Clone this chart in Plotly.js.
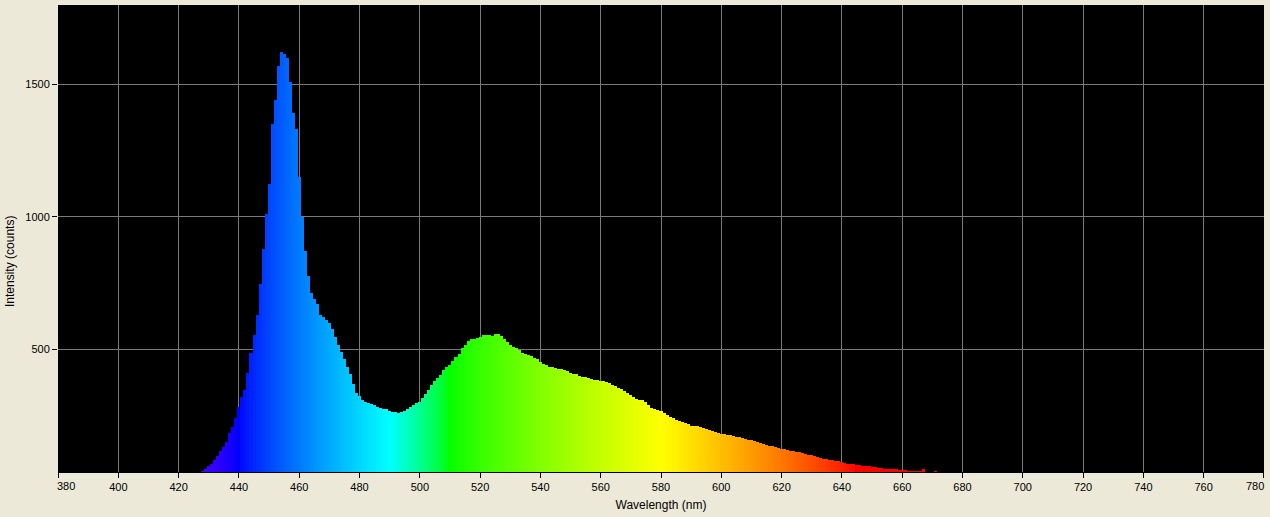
<!DOCTYPE html>
<html>
<head>
<meta charset="utf-8">
<script src="https://cdn.plot.ly/plotly-3.0.1.min.js"></script>
<style>
html,body{margin:0;padding:0;background:#ECE9D8;}
#chart{width:1270px;height:517px;}
</style>
</head>
<body>
<div id="chart"></div>
<script>
// Wavelength (nm), one bin per nm
const wavelengths = [];
for (let w = 428; w <= 671; w++) wavelengths.push(w);

// Intensity (counts), 428..671 nm
const intensity = [
  42, 50, 60, 68, 82, 98, 115, 132, 152, 185,           // 428-437
  205, 240, 282, 320, 348, 410, 485, 555, 630, 745,      // 438-447
  880, 1010, 1125, 1350, 1440, 1570, 1620, 1615, 1600, 1510, // 448-457
  1390, 1330, 1150, 1000, 870, 775, 712, 690, 670, 630,  // 458-467
  620, 612, 598, 575, 545, 518, 490, 462, 432, 405,      // 468-477
  370, 335, 322, 308, 300, 297, 294, 290, 283, 280,      // 478-487
  276, 273, 268, 265, 262, 261, 263, 267, 273, 281,      // 488-497
  289, 296, 300, 318, 332, 348, 367, 380, 391, 402,      // 498-507
  422, 432, 441, 456, 470, 482, 505, 518, 530, 537,      // 508-517
  538, 543, 548, 553, 554, 553, 551, 556, 558, 550,      // 518-527
  540, 526, 515, 510, 503, 497, 487, 483, 480, 474,      // 528-537
  468, 463, 452, 445, 439, 434, 432, 429, 427, 425,      // 538-547
  422, 418, 412, 408, 406, 401, 397, 395, 393, 388,      // 548-557
  386, 384, 381, 379, 375, 371, 366, 360, 355, 350,      // 558-567
  344, 336, 327, 320, 313, 310, 308, 300, 290, 279,      // 568-577
  274, 271, 266, 259, 253, 245, 240, 235, 231, 227,      // 578-587
  222, 217, 212, 211, 210, 206, 204, 199, 195, 192,      // 588-597
  188, 184, 182, 180, 178, 176, 173, 170, 168, 164,      // 598-607
  161, 158, 156, 153, 150, 146, 141, 138, 137, 135,      // 608-617
  132, 128, 125, 122, 119, 117, 115, 113, 112, 108,      // 618-627
  105, 103, 100, 97, 94, 90, 87, 85, 83, 82,             // 628-637
  79, 77, 75, 71, 68, 67, 66, 65, 63, 61,                // 638-647
  60, 58, 57, 56, 53, 51, 50, 49, 48, 47,                // 648-657
  47, 46, 45, 43, 42, 42, 41, 40, 39, 50,                // 658-667
  38, 37, 37, 40                                          // 668-671
];

const xTicks = [380,400,420,440,460,480,500,520,540,560,580,600,620,640,660,680,700,720,740,760,780];
const yTicks = [500, 1000, 1500];
const xMin = 380, xMax = 780;

// visible-spectrum colour for a wavelength (style only)
function specColor(w) {
  let r=0,g=0,b=0;
  if (w < 440) { r = -(w-440)/60; b = 1; }
  else if (w < 490) { g = (w-440)/50; b = 1; }
  else if (w < 510) { g = 1; b = -(w-510)/20; }
  else if (w < 580) { r = (w-510)/70; g = 1; }
  else if (w < 645) { r = 1; g = -(w-645)/65; }
  else { r = 1; }
  let f = 1;
  if (w < 420) f = 0.3 + 0.7*(w-380)/40;
  else if (w > 700) f = 0.3 + 0.7*(780-w)/80;
  const c = v => v <= 0 ? 0 : Math.round(255*Math.pow(v*f, 0.8));
  return 'rgb(' + c(r) + ',' + c(g) + ',' + c(b) + ')';
}

const font = {family: 'Liberation Sans, Arial, sans-serif', size: 11, color: '#000'};

const trace = {
  type: 'bar',
  x: wavelengths,
  y: intensity,
  width: 1,
  marker: {color: wavelengths.map(specColor), line: {width: 0}},
  hoverinfo: 'x+y'
};

// end labels are edge-aligned (drawn as annotations), inner labels are centred ticks
const xTickText = xTicks.map(v => (v === xMin || v === xMax) ? '' : String(v));

const layout = {
  width: 1270, height: 517,
  margin: {l: 58, r: 6, t: 5, b: 45, pad: 0},
  paper_bgcolor: '#ECE9D8',
  plot_bgcolor: '#000000',
  bargap: 0,
  showlegend: false,
  font: font,
  xaxis: {
    range: [xMin - 0.02, xMax + 0.02],
    tickvals: xTicks,
    ticktext: xTickText,
    ticks: 'outside', ticklen: 5, tickcolor: '#000', tickwidth: 1,
    showline: true, linecolor: '#000', linewidth: 1,
    showgrid: true, gridcolor: '#7a7a7a', gridwidth: 1,
    zeroline: false,
    tickfont: font,
    title: {text: 'Wavelength (nm)', font: {family: font.family, size: 12, color: '#000'}, standoff: 8}
  },
  yaxis: {
    range: [37, 1799],
    tickvals: yTicks,
    ticktext: yTicks.map(String),
    ticks: 'outside', ticklen: 5, tickcolor: '#000', tickwidth: 1,
    showline: false,
    showgrid: true, gridcolor: '#7a7a7a', gridwidth: 1,
    zeroline: false,
    tickfont: font
  },
  annotations: [
    {
      text: 'Intensity (counts)',
      textangle: -90,
      xref: 'paper', yref: 'paper',
      x: 0, y: 0.4497,
      xanchor: 'center', yanchor: 'middle',
      xshift: -48,
      showarrow: false,
      font: {family: font.family, size: 12, color: '#000'}
    },
    {
      text: String(xMin), xref: 'x', yref: 'paper', x: xMin, y: 0,
      xanchor: 'left', yanchor: 'top', yshift: -6, xshift: -3,
      showarrow: false, font: font
    },
    {
      text: String(xMax), xref: 'x', yref: 'paper', x: xMax, y: 0,
      xanchor: 'right', yanchor: 'top', yshift: -6, xshift: 2,
      showarrow: false, font: font
    }
  ]
};

Plotly.newPlot('chart', [trace], layout, {displayModeBar: false, staticPlot: true});
</script>
</body>
</html>
